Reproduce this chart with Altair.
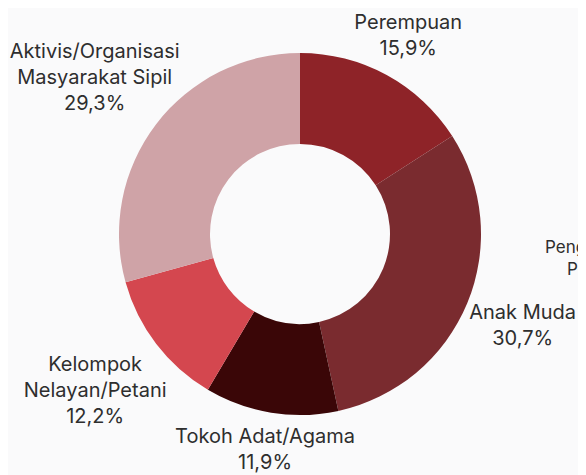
import altair as alt
import pandas as pd

# ---- data ----
categories = [
    "Perempuan",
    "Anak Muda",
    "Tokoh Adat/Agama",
    "Kelompok Nelayan/Petani",
    "Aktivis/Organisasi Masyarakat Sipil",
]
values = [15.9, 30.7, 11.9, 12.2, 29.3]
label_lines = [
    ["Perempuan"],
    ["Anak Muda"],
    ["Tokoh Adat/Agama"],
    ["Kelompok", "Nelayan/Petani"],
    ["Aktivis/Organisasi", "Masyarakat Sipil"],
]

# ---- styling ----
colors = ["#8e2328", "#7a2b2f", "#3a0607", "#d4474f", "#cfa3a7"]
label_radius = [226, 241, 219, 258, 258]
CX, CY = 292, 226
FONT = "Inter"
FONT_SIZE = 20
LINE_H = 26
TEXT_COLOR = "#2e2e2e"

def pct(v):
    return f"{v:.1f}".replace(".", ",") + "%"

df = pd.DataFrame({
    "kategori": categories,
    "persen": values,
    "urut": list(range(len(categories))),
    "label": ["\n".join(lines + [pct(v)]) for lines, v in zip(label_lines, values)],
    "nl": [len(lines) + 1 for lines in label_lines],
    "lr": label_radius,
})

arc = alt.Chart(df).mark_arc(innerRadius=90, outerRadius=181, strokeWidth=0).encode(
    theta=alt.Theta("persen:Q", stack=True),
    order=alt.Order("urut:Q", sort="ascending"),
    color=alt.Color("kategori:N", scale=alt.Scale(domain=categories, range=colors), legend=None),
    x=alt.value(CX),
    y=alt.value(CY),
)

labels = alt.Chart(df).transform_joinaggregate(
    total="sum(persen)"
).transform_window(
    cum="sum(persen)", sort=[alt.SortField("urut")], frame=[None, 0]
).transform_calculate(
    mid="(datum.cum - datum.persen / 2) / datum.total * 2 * PI",
    lx=f"{CX} + datum.lr * sin(datum.mid)",
    ly=f"{CY} - datum.lr * cos(datum.mid) - (datum.nl - 1) * {LINE_H} / 2",
).mark_text(
    font=FONT, fontSize=FONT_SIZE, lineBreak="\n", lineHeight=LINE_H,
    align="center", baseline="middle", color=TEXT_COLOR,
).encode(
    x=alt.X("lx:Q", scale=None),
    y=alt.Y("ly:Q", scale=None),
    text="label:N",
)

# partially visible label at the right edge of the original graphic
edge1 = alt.Chart(pd.DataFrame({"t": ["Pengusaha/"]})).mark_text(
    font=FONT, fontSize=17, align="left", baseline="alphabetic", color=TEXT_COLOR
).encode(text="t:N", x=alt.value(537), y=alt.value(245))
edge2 = alt.Chart(pd.DataFrame({"t": ["Pemerintah"]})).mark_text(
    font=FONT, fontSize=17, align="left", baseline="alphabetic", color=TEXT_COLOR
).encode(text="t:N", x=alt.value(559), y=alt.value(267))

chart = alt.layer(arc, labels, edge1, edge2).properties(
    width=570,
    height=467,
    autosize=alt.AutoSizeParams(type="none"),
    padding=0,
    background="#fafafb",
).configure_view(stroke=None)

chart.save("out.html", embed_options={"renderer": "svg", "actions": False})
